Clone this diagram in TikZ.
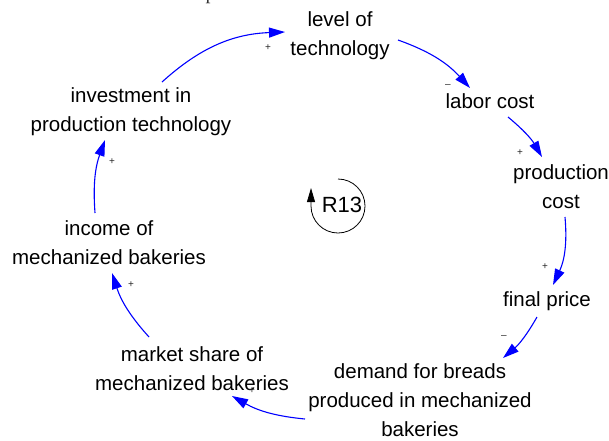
\documentclass[tikz,border=0pt]{standalone}
\usepackage{fontspec}
\setmainfont{Liberation Sans}
\newfontfamily\cutserif{Liberation Serif}
\usetikzlibrary{arrows.meta}

\begin{document}
\begin{tikzpicture}[x=1pt,y=1pt,
  var/.style={align=center, inner sep=0pt, font=\fontsize{20.5}{29}\selectfont},
  link/.style={blue, line width=1.1pt, -{Triangle[length=16pt,width=10pt]}},
  sign/.style={inner sep=0pt, font=\fontsize{10}{10}\selectfont, text=black!85},
  loopmark/.style={black, line width=0.8pt, -{Triangle[length=14pt,width=8pt]}}]
\useasboundingbox (0,0) rectangle (609,-440);

% line of running text cut off at the upper edge
\begin{scope}
  \clip (0,0) rectangle (609,-440);
  \node[anchor=base west, inner sep=0pt, text=black!80,
        font=\cutserif\fontsize{20}{20}\selectfont] (cutline) at (45,0.2)
        {and thus the cost of production will decrease.};
\end{scope}

% variables
\node[var] (tech)   at (340,-36)  {level of\\technology};
\node[var] (labor)  at (490,-101) {labor cost};
\node[var] (prod)   at (561,-187) {production\\cost};
\node[var] (final)  at (547,-301) {final price};
\node[var] (demand) at (420,-400) {demand for breads\\produced in mechanized\\bakeries};
\node[var] (market) at (192,-369) {market share of\\mechanized bakeries};
\node[var] (income) at (109,-243) {income of\\mechanized bakeries};
\node[var] (inv)    at (131,-112) {investment in\\production technology};

% causal links
\draw[link] ([shift={(31,30)}]inv.center)     to[bend left=20] ([shift={(-55,4)}]tech.center);
\draw[link] ([shift={(58,-4)}]tech.center)    to[bend left=14] ([shift={(-20,13)}]labor.center);
\draw[link] ([shift={(18,-16)}]labor.center)  to[bend left=10] ([shift={(-19,30)}]prod.center);
\draw[link] ([shift={(4,-30)}]prod.center)    to[bend left=15] ([shift={(6,16)}]final.center);
\draw[link] ([shift={(-10,-16)}]final.center) to[bend left=10] ([shift={(83,42)}]demand.center);
\draw[link] ([shift={(-115,-19)}]demand.center) to[bend left=12] ([shift={(40,-27)}]market.center);
\draw[link] ([shift={(-43,32)}]market.center) to[bend left=12] ([shift={(3,-30)}]income.center);
\draw[link] ([shift={(-14,30)}]income.center) to[bend left=12] ([shift={(-26,-28)}]inv.center);

% link polarities
\node[sign] (sa) at (268,-48)  {+};
\node[sign] (sb) at (448,-86)  {\textendash};
\node[sign] (sc) at (520,-153) {+};
\node[sign] (sd) at (545,-267) {+};
\node[sign] (se) at (504,-337) {\textendash};
\node[sign] (sf) at (252,-391) {+};
\node[sign] (sg) at (131,-285) {+};
\node[sign] (sh) at (112,-162) {+};

% loop identifier
\coordinate (lc) at (338,-206);
\node[inner sep=0pt, font=\fontsize{22}{22}\selectfont] (r13) at (342,-205) {R13};
\draw[loopmark] ([shift={(90:27)}]lc) arc[start angle=90, end angle=-180, radius=27] -- ++(0,18);
\end{tikzpicture}
\end{document}
